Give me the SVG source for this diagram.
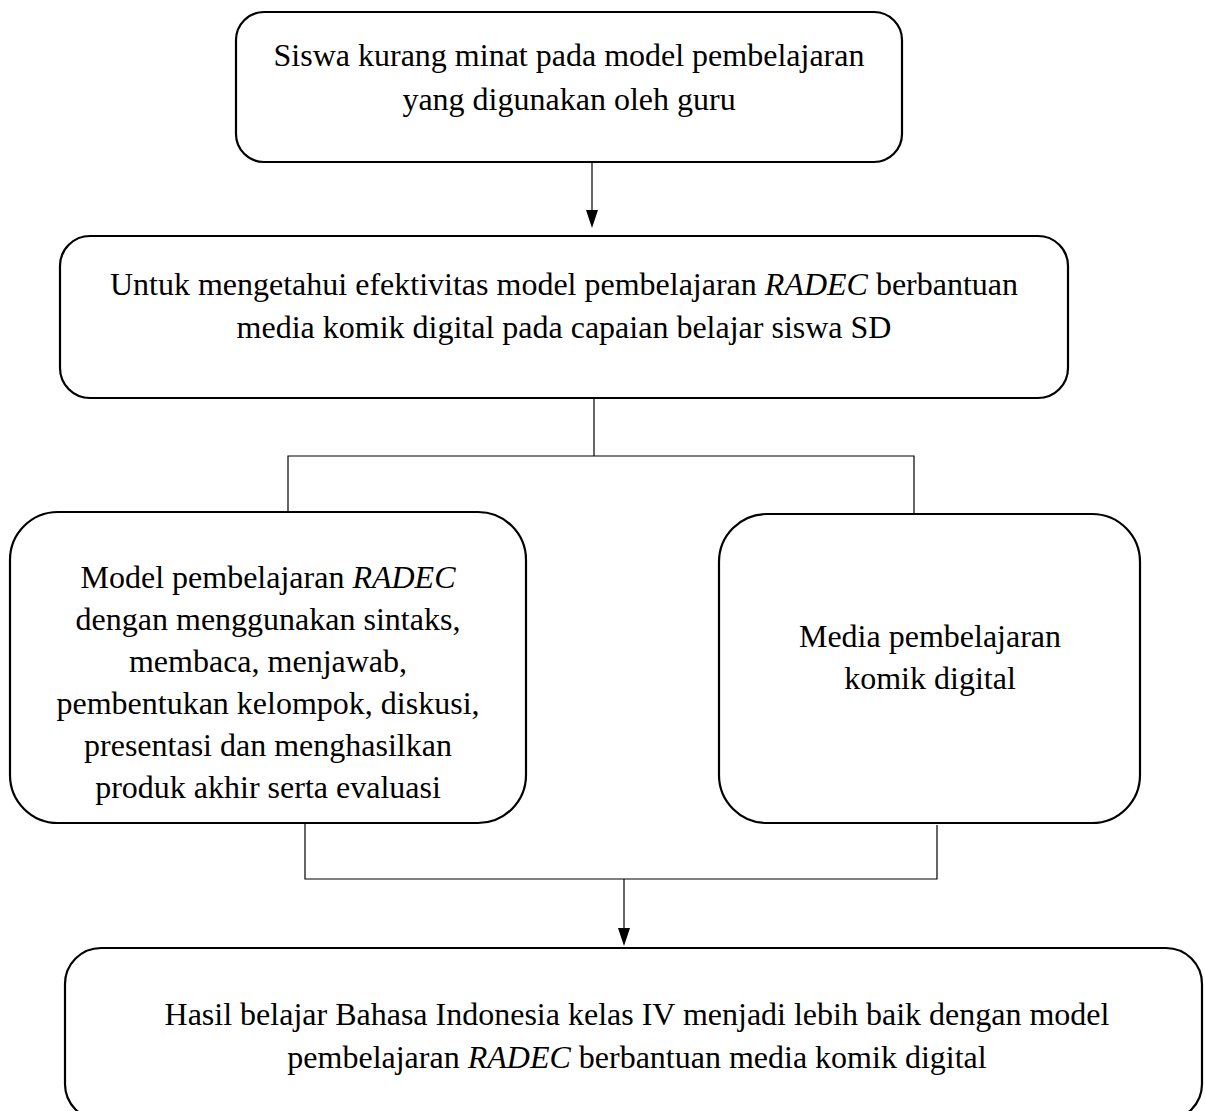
<svg xmlns="http://www.w3.org/2000/svg" width="1205" height="1111" viewBox="0 0 1205 1111">
<style>
.box{fill:#fff;stroke:#000;stroke-width:2.2}
.t{font-family:"Liberation Serif","Times New Roman",serif;font-size:32px;fill:#000;text-anchor:middle}
.i{font-style:italic}
.c{stroke:#000;stroke-width:1.2;fill:none}
.ah{fill:#000}
</style>
<rect width="1205" height="1111" fill="#fff"/>
<g id="connectors">
<line class="c" x1="592" y1="162" x2="592" y2="212"/>
<path class="ah" d="M586,210 L598,210 L592,228 Z"/>
<line class="c" x1="594" y1="397" x2="594" y2="456"/>
<polyline class="c" points="288,512 288,456 914,456 914,514"/>
<polyline class="c" points="305,823 305,879 937,879 937,825"/>
<line class="c" x1="624" y1="879" x2="624" y2="930"/>
<path class="ah" d="M618,928 L630,928 L624,946 Z"/>
</g>
<g id="n1">
<rect class="box" x="236" y="12" width="666" height="150" rx="28"/>
<text class="t" x="569" y="66">Siswa kurang minat pada model pembelajaran</text>
<text class="t" x="569" y="110">yang digunakan oleh guru</text>
</g>
<g id="n2">
<rect class="box" x="60" y="236" width="1008" height="162" rx="30"/>
<text class="t" x="564" y="295">Untuk mengetahui efektivitas model pembelajaran <tspan class="i">RADEC</tspan> berbantuan</text>
<text class="t" x="564" y="338">media komik digital pada capaian belajar siswa SD</text>
</g>
<g id="n3">
<rect class="box" x="10" y="512" width="516" height="311" rx="48"/>
<text class="t" x="268" y="588">Model pembelajaran <tspan class="i">RADEC</tspan></text>
<text class="t" x="268" y="630">dengan menggunakan sintaks,</text>
<text class="t" x="268" y="672">membaca, menjawab,</text>
<text class="t" x="268" y="714">pembentukan kelompok, diskusi,</text>
<text class="t" x="268" y="756">presentasi dan menghasilkan</text>
<text class="t" x="268" y="798">produk akhir serta evaluasi</text>
</g>
<g id="n4">
<rect class="box" x="719" y="514" width="421" height="309" rx="48"/>
<text class="t" x="930" y="647">Media pembelajaran</text>
<text class="t" x="930" y="689">komik digital</text>
</g>
<g id="n5">
<rect class="box" x="65" y="948" width="1137" height="172" rx="36"/>
<text class="t" x="637" y="1025">Hasil belajar Bahasa Indonesia kelas IV menjadi lebih baik dengan model</text>
<text class="t" x="637" y="1068">pembelajaran <tspan class="i">RADEC</tspan> berbantuan media komik digital</text>
</g>
</svg>
